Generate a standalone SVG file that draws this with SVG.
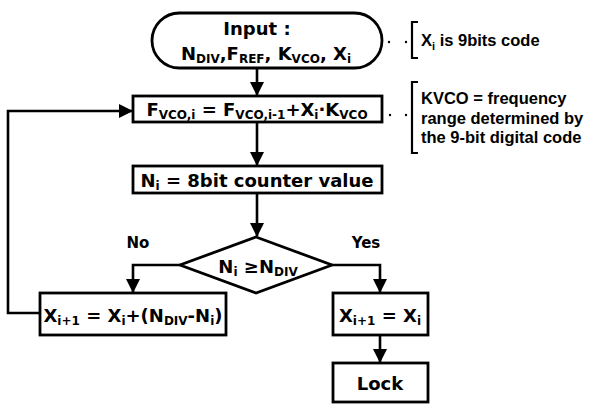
<svg xmlns="http://www.w3.org/2000/svg" width="601" height="405" viewBox="0 0 601 405">
<style>
.box{fill:#fff;stroke:#000;stroke-width:2.8}
.con{fill:none;stroke:#000;stroke-width:2.6}
.t{font-family:"DejaVu Sans",sans-serif;font-weight:bold;font-size:18px;fill:#000}
.s{font-size:12px}
.lbl{font-family:"DejaVu Sans",sans-serif;font-weight:bold;font-size:15px;fill:#000}
.ann{font-family:"Liberation Sans",Arial,sans-serif;font-weight:bold;font-size:16.5px;fill:#000}
.br{fill:none;stroke:#000;stroke-width:2.2}
</style>
<defs>
<marker id="ah" markerUnits="userSpaceOnUse" markerWidth="14" markerHeight="14" viewBox="0 0 14 14" refX="13" refY="7" orient="auto">
<path d="M0,0 L14,7 L0,14 Z" fill="#000"/>
</marker>
</defs>
<g id="connectors">
<path class="con" d="M257,68 V95" marker-end="url(#ah)"/>
<path class="con" d="M257,122 V165" marker-end="url(#ah)"/>
<path class="con" d="M257,193 V236" marker-end="url(#ah)"/>
<path class="con" d="M180,265 H133 V292" marker-end="url(#ah)"/>
<path class="con" d="M332,265 H380 V292" marker-end="url(#ah)"/>
<path class="con" d="M380,335 V362" marker-end="url(#ah)"/>
<path class="con" d="M40,313 H8 V111 H132" marker-end="url(#ah)"/>
</g>
<g id="input">
<rect class="box" x="152" y="13" width="230" height="55" rx="27.5"/>
<text class="t" x="257" y="35" text-anchor="middle">Input :</text>
<text class="t" x="266" y="60" text-anchor="middle">N<tspan class="s" dy="3">DIV</tspan><tspan dy="-3">,F</tspan><tspan class="s" dy="3">REF</tspan><tspan dy="-3">, K</tspan><tspan class="s" dy="3">VCO</tspan><tspan dy="-3">, X</tspan><tspan class="s" dy="3">i</tspan></text>
</g>
<g id="note1">
<circle cx="389" cy="42" r="1.2"/>
<circle cx="406" cy="42" r="1.2"/>
<path class="br" d="M418,22 H412 V58 H418"/>
<text class="ann" x="421" y="46">X<tspan font-size="11" dy="4">i</tspan><tspan dy="-4"> is 9bits code</tspan></text>
</g>
<g id="fvco">
<rect class="box" x="133" y="96" width="249" height="26"/>
<text class="t" x="257" y="116" text-anchor="middle">F<tspan class="s" dy="3">VCO,i</tspan><tspan dy="-3"> = F</tspan><tspan class="s" dy="3">VCO,i-1</tspan><tspan dy="-3">+X</tspan><tspan class="s" dy="3">i</tspan><tspan dy="-3">·K</tspan><tspan class="s" dy="3">VCO</tspan></text>
</g>
<g id="note2">
<circle cx="390" cy="115" r="1.2"/>
<circle cx="406" cy="115" r="1.2"/>
<path class="br" d="M418,82 H412 V153 H418"/>
<text class="ann" x="421" y="104">KVCO = frequency</text>
<text class="ann" x="421" y="124">range determined by</text>
<text class="ann" x="421" y="143">the 9-bit digital code</text>
</g>
<g id="counter">
<rect class="box" x="133" y="166" width="249" height="27"/>
<text class="t" x="257" y="187" text-anchor="middle">N<tspan class="s" dy="3">i</tspan><tspan dy="-3"> = 8bit counter value</tspan></text>
</g>
<g id="decision">
<path class="box" d="M256,237 L332,265 L256,293 L180,265 Z"/>
<text class="t" x="258" y="273" text-anchor="middle">N<tspan class="s" dy="3">i</tspan><tspan dy="-3"> ≥N</tspan><tspan class="s" dy="3">DIV</tspan></text>
<text class="lbl" x="138" y="248" text-anchor="middle">No</text>
<text class="lbl" x="366" y="248" text-anchor="middle">Yes</text>
</g>
<g id="update">
<rect class="box" x="40" y="293" width="186" height="42"/>
<text class="t" x="133" y="322" text-anchor="middle">X<tspan class="s" dy="3">i+1</tspan><tspan dy="-3"> = X</tspan><tspan class="s" dy="3">i</tspan><tspan dy="-3">+(N</tspan><tspan class="s" dy="3">DIV</tspan><tspan dy="-3">-N</tspan><tspan class="s" dy="3">i</tspan><tspan dy="-3">)</tspan></text>
</g>
<g id="hold">
<rect class="box" x="333" y="293" width="95" height="42"/>
<text class="t" x="380" y="322" text-anchor="middle">X<tspan class="s" dy="3">i+1</tspan><tspan dy="-3"> = X</tspan><tspan class="s" dy="3">i</tspan></text>
</g>
<g id="lock">
<rect class="box" x="333" y="363" width="95" height="39"/>
<text class="t" x="380" y="390" text-anchor="middle">Lock</text>
</g>
</svg>
